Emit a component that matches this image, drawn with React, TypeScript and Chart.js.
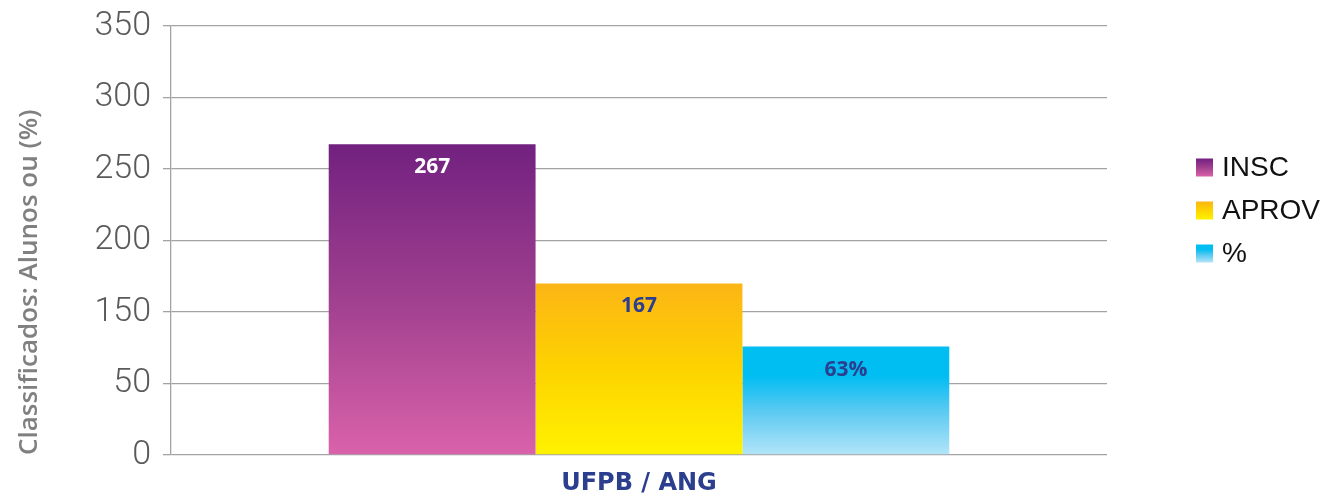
import { useEffect, useRef } from "react";
import { Chart, registerables } from "chart.js";

Chart.register(...registerables);

// ---- data ----
const categories = ["UFPB / ANG"];
const seriesNames = ["INSC", "APROV", "%"];
// bar heights read against the axis (0..350 span, 6 equal gridline intervals)
const inscValues = [253.6];
const aprovValues = [140];
const pctValues = [88.5];
// values printed inside the bars
const inscLabels = ["267"];
const aprovLabels = ["167"];
const pctLabels = ["63%"];
// tick labels as printed on the y axis (bottom to top)
const yTickLabels = ["0", "50", "150", "200", "250", "300", "350"];
const yMax = 350;
const yTitle = "Classificados: Alunos ou (%)";

// ---- styles ----
const gradientStops: Array<Array<[number, string]>> = [
  [[0, "#722180"], [0.5, "#a0408f"], [1, "#da62aa"]],
  [[0, "#fcb515"], [0.5, "#fdd300"], [1, "#fff200"]],
  [[0, "#00bdf2"], [0.27, "#00bdf2"], [0.6, "#5ccaf2"], [1, "#b3e5f8"]],
];
const labelColors = ["#ffffff", "#2b3f8e", "#2b3f8e"];

function makeGradient(ctx: CanvasRenderingContext2D, top: number, bottom: number, stops: Array<[number, string]>) {
  const g = ctx.createLinearGradient(0, top, 0, bottom);
  stops.forEach(([o, c]) => g.addColorStop(o, c));
  return g;
}

function barBg(seriesIndex: number) {
  return (context: any) => {
    const chart = context.chart;
    const area = chart.chartArea;
    const stops = gradientStops[seriesIndex];
    if (!area || context.raw == null) return stops[0][1];
    const y = chart.scales.y;
    const top = y.getPixelForValue(context.raw);
    const bottom = y.getPixelForValue(0);
    return makeGradient(chart.ctx, top, bottom, stops);
  };
}

const allLabels = [inscLabels, aprovLabels, pctLabels];

const dataLabelPlugin = {
  id: "barValueLabels",
  afterDatasetsDraw(chart: any) {
    const ctx = chart.ctx;
    ctx.save();
    ctx.font = "bold 21px 'Open Sans'";
    ctx.textAlign = "center";
    ctx.textBaseline = "middle";
    chart.data.datasets.forEach((_ds: any, di: number) => {
      const meta = chart.getDatasetMeta(di);
      meta.data.forEach((el: any, i: number) => {
        ctx.fillStyle = labelColors[di];
        ctx.fillText(allLabels[di][i], el.x, el.y + 23);
      });
    });
    ctx.restore();
  },
};

const legendPlugin = {
  id: "sideLegend",
  afterDraw(chart: any) {
    const ctx = chart.ctx;
    const area = chart.chartArea;
    const x0 = area.right + 89;
    const cy = (area.top + area.bottom) / 2 - 30;
    const gap = 43;
    ctx.save();
    seriesNames.forEach((name, i) => {
      const yc = cy + (i - 1) * gap;
      ctx.fillStyle = makeGradient(ctx, yc - 9, yc + 9, gradientStops[i]);
      ctx.fillRect(x0, yc - 9, 17, 18);
      ctx.fillStyle = "#111111";
      ctx.font = "28px 'Liberation Sans'";
      ctx.textAlign = "left";
      ctx.textBaseline = "middle";
      ctx.fillText(name, x0 + 26, yc + 1);
    });
    ctx.restore();
  },
};

export default function App() {
  const ref = useRef<HTMLCanvasElement | null>(null);

  useEffect(() => {
    if (!ref.current) return;
    const seriesValues = [inscValues, aprovValues, pctValues];
    const chart = new Chart(ref.current, {
      type: "bar",
      data: {
        labels: categories,
        datasets: seriesNames.map((name, i) => ({
          label: name,
          data: seriesValues[i],
          backgroundColor: barBg(i),
          borderWidth: 0,
          categoryPercentage: 0.663,
          barPercentage: 1,
        })),
      },
      options: {
        animation: false,
        responsive: true,
        maintainAspectRatio: false,
        layout: { padding: { left: 0, right: 222, top: 26, bottom: 0 } },
        plugins: {
          legend: { display: false },
          tooltip: { enabled: false },
        },
        scales: {
          x: {
            afterFit: (scale: any) => {
              scale.height = 42;
            },
            grid: { display: false, drawTicks: false },
            border: { display: false },
            ticks: {
              color: "#2b3f8e",
              padding: 14,
              font: { family: "'DejaVu Sans'", size: 24, weight: "bold" },
            },
          },
          y: {
            min: 0,
            max: yMax,
            afterFit: (scale: any) => {
              scale.width = 171;
              scale.paddingTop = 0;
              scale.paddingBottom = 0;
            },
            ticks: {
              stepSize: yMax / (yTickLabels.length - 1),
              padding: 12,
              color: "#5a5a5a",
              font: { family: "Roboto", size: 34, weight: "300" },
              callback: (_v: any, index: number) => yTickLabels[index],
            },
            grid: { color: "#a3a3a3", lineWidth: 1.3, tickLength: 8, drawTicks: true },
            border: { display: true, color: "#a3a3a3", width: 1.3 },
            title: {
              display: true,
              text: yTitle,
              align: "start",
              color: "#808080",
              font: { family: "'Open Sans'", size: 26, weight: "600" },
              padding: { top: 14, bottom: 0 },
            },
          },
        },
      },
      plugins: [dataLabelPlugin, legendPlugin],
    });
    return () => chart.destroy();
  }, []);

  return (
    <div style={{ position: "absolute", left: 0, top: 0, width: 1329, height: 497 }}>
      <canvas ref={ref} />
    </div>
  );
}
